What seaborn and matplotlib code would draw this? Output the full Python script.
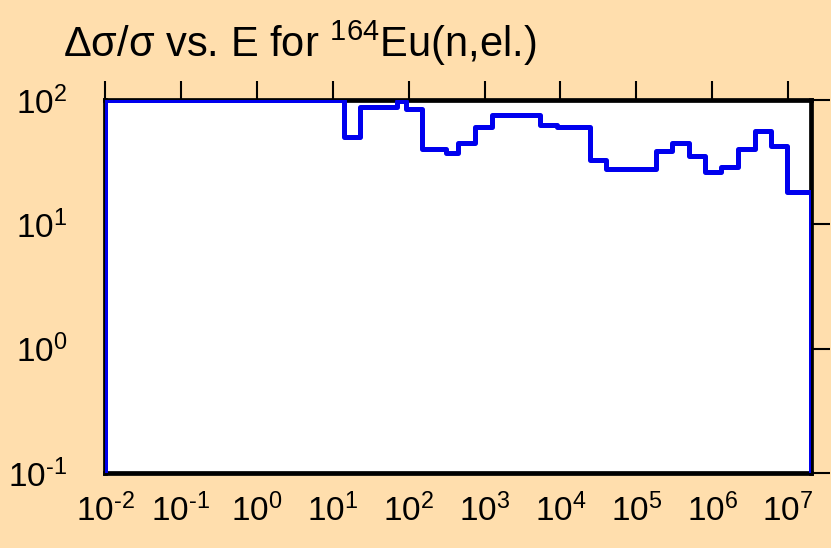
import numpy as np
import pandas as pd
import matplotlib
matplotlib.use("Agg")
import matplotlib.pyplot as plt
import matplotlib.ticker as mticker
import seaborn as sns

# bin edges (eV) and relative uncertainty (%) per bin
edges = [1e-2, 13.9, 23, 71, 92.5, 150, 310, 453, 744, 1265, 5460, 9020,
         2.475e4, 4.01e4, 1.8e5, 2.92e5, 4.93e5, 8.0e5, 1.32e6, 2.19e6,
         3.62e6, 5.87e6, 9.7e6, 2e7]
values = [100, 50.7, 87.4, 98, 84.2, 40.6, 37.2, 44.9, 60.3, 75.7, 62.5,
          60.6, 32.9, 28.0, 38.9, 44.9, 35.4, 26.5, 29.0, 40.4, 56.6, 42.6, 18.1]

xticks = [1e-2, 1e-1, 1e0, 1e1, 1e2, 1e3, 1e4, 1e5, 1e6, 1e7]
yticks = [1e-1, 1e0, 1e1, 1e2]
title = "Δσ/σ vs. E for $^{164}$Eu(n,el.)"
ymin, ymax = 0.1, 100
xmin, xmax = 1e-2, 2e7

# step outline: drop to the axis floor at both ends
xs = [edges[0]] + edges + [edges[-1]]
ys = [ymin] + values + [values[-1], ymin]
df = pd.DataFrame({"E": xs, "unc": ys})


def pow_label(v, pos):
    # plain hyphen in the exponent, like the original
    p = int(round(np.log10(v)))
    exp = str(p).replace("-", "\u2010")
    return "$10^{%s}$" % exp


sns.set_theme(style="white")
plt.rcParams["font.family"] = ["Liberation Sans", "DejaVu Sans"]
plt.rcParams["mathtext.default"] = "regular"
plt.rcParams["axes.unicode_minus"] = False

bg = "#FFDEAD"
fig = plt.figure(figsize=(8.31, 5.48), dpi=100, facecolor=bg)
ax = fig.add_axes([105 / 831, 1 - 473 / 548, 706 / 831, 373 / 548])
ax.set_facecolor("white")

sns.lineplot(data=df, x="E", y="unc", ax=ax, estimator=None, sort=False,
             drawstyle="steps-post", color="#0000EE", linewidth=3.6, zorder=3)

ax.set_xscale("log")
ax.set_yscale("log")
ax.set_xlim(xmin, xmax)
ax.set_ylim(ymin, ymax)
ax.set_xticks(xticks)
ax.set_yticks(yticks)
ax.xaxis.set_minor_locator(mticker.NullLocator())
ax.yaxis.set_minor_locator(mticker.NullLocator())
ax.xaxis.set_major_formatter(mticker.FuncFormatter(pow_label))
ax.yaxis.set_major_formatter(mticker.FuncFormatter(pow_label))
ax.set_xlabel("")
ax.set_ylabel("")

for side in ["top", "right", "bottom", "left"]:
    ax.spines[side].set_visible(True)
    ax.spines[side].set_color("black")
    ax.spines[side].set_linewidth(3.4)

ax.tick_params(axis="both", which="major", direction="out", length=14, width=1.5,
               color="black", top=True, right=True, labelsize=24, labelcolor="black")
ax.tick_params(axis="x", pad=1)
ax.tick_params(axis="y", pad=13)

fig.text(63 / 831, 1 - 57 / 548, title, fontsize=30, ha="left", va="baseline",
         color="black")

fig.savefig("out.png", dpi=100, facecolor=bg)
